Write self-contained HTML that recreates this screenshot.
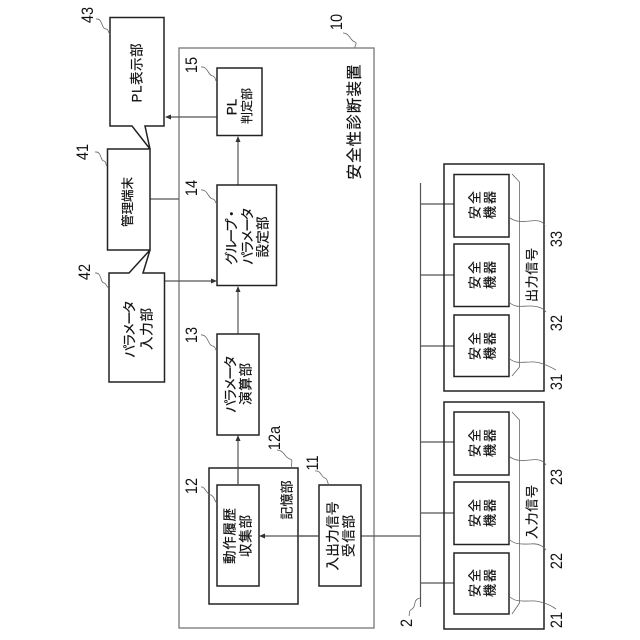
<!DOCTYPE html>
<html lang="ja">
<head>
<meta charset="utf-8">
<style>
html,body{margin:0;padding:0;background:#fff}
svg{display:block}
text{font-family:"Liberation Sans","Noto Sans CJK JP",sans-serif;fill:#111;text-anchor:middle;dominant-baseline:central}
.b{fill:#fff;stroke:#222;stroke-width:1.5}
.o{fill:none;stroke:#777;stroke-width:1.3}
.l{fill:none;stroke:#555;stroke-width:1.2}
.w{fill:none;stroke:#666;stroke-width:.8}
.a{fill:#333}
.j{font-size:13.500px;stroke:#111;stroke-width:.2}
.s{font-size:12.500px}
.t{font-size:13px}
.n{font-size:16.500px}
</style>
</head>
<body>
<svg width="640" height="640" viewBox="0 0 640 640" xmlns="http://www.w3.org/2000/svg">
<rect class="o" x="179" y="48" width="195" height="580"/>

<!-- connectors -->
<path class="l" d="M217 117H170M238 185V140M150 199H179M164 281H212M238 334V290M238 485V440M319 536H265M361 536H420.500"/>
<path class="l" d="M420.500 183V607M420.500 204H454M420.500 275H454M420.500 346H454M420.500 442H454M420.500 513H454M420.500 583H454"/>
<polygon class="a" points="165,117 171,114.500 171,119.500"/>
<polygon class="a" points="238,136 235.500,142 240.500,142"/>
<polygon class="a" points="217,281 211,278.500 211,283.500"/>
<polygon class="a" points="238,286 235.500,292 240.500,292"/>
<polygon class="a" points="238,435 235.500,441 240.500,441"/>
<polygon class="a" points="259,536 265,533.500 265,538.500"/>

<!-- external blocks -->
<path class="b" d="M110 17.500H164V126H145L150 149L132 126H110Z"/>
<path class="b" d="M109 273H129L150 250L143 273H164.500V382H109Z"/>
<rect class="b" x="107.500" y="149" width="42.500" height="101"/>

<!-- inner blocks -->
<rect class="b" x="217" y="68" width="45" height="67.500"/>
<rect class="b" x="217" y="185" width="59.500" height="100.500"/>
<rect class="b" x="217" y="334" width="42" height="101"/>
<rect class="b" style="fill:none" x="209" y="468" width="89" height="136"/>
<rect class="b" x="217" y="485" width="42" height="101"/>
<rect class="b" x="319" y="485" width="42" height="101"/>
<path class="l" d="M238 468V485"/>
<path class="l" d="M298 536H319"/>

<!-- right groups -->
<rect class="b" style="fill:none" x="444" y="164" width="100" height="227"/>
<rect class="b" x="454" y="174.500" width="55" height="62.500"/>
<rect class="b" x="454" y="244" width="55" height="62.500"/>
<rect class="b" x="454" y="315" width="55" height="61.500"/>
<rect class="b" style="fill:none" x="444" y="402" width="100" height="227"/>
<rect class="b" x="454" y="412" width="55" height="63"/>
<rect class="b" x="454" y="482" width="55" height="62.500"/>
<rect class="b" x="454" y="553" width="55" height="61"/>
<path class="w" d="M512 174L519.500 182V367L512 376M512 412L519.500 420V603L512 614"/>

<!-- leaders -->
<path class="w" d="M96 19C103 18 101 29 106 29C109 29 108 33 110 34"/>
<path class="w" d="M343 33C350 33 350 41 355 42C358 43 354 46 355 48"/>
<path class="w" d="M201 67C208 66 208 76 213 76C216 77 215 81 217 82"/>
<path class="w" d="M95 152C102 151 100 161 104 161C107 162 105 165 107 166"/>
<path class="w" d="M95 273C102 272 100 283 104 283C107 284 106 287 109 288"/>
<path class="w" d="M201 190C208 189 208 199 213 199C216 200 215 203 217 204"/>
<path class="w" d="M201 335C208 334 208 346 213 346C216 347 215 350 217 351"/>
<path class="w" d="M201 487C205 486 206 494 211 495C215 497 214 501 217 503"/>
<path class="w" d="M277 450C284 450 285 458 290 459C294 460 290 466 292 468"/>
<path class="w" d="M315 471C321 470 321 477 325 478C328 479 327 483 329 485"/>
<path class="w" d="M510 218C516 222 522 222 530 221C538 220 543 221 545 226"/>
<path class="w" d="M510 303C516 308 522 306 530 306C538 306 543 308 546 312"/>
<path class="w" d="M510 359C516 364 522 362 530 362C538 361 549 366 556 370"/>
<path class="w" d="M510 457C516 461 522 461 530 460C538 459 543 460 546 465"/>
<path class="w" d="M510 540C516 545 522 544 530 544C538 543 543 546 546 550"/>
<path class="w" d="M510 597C516 602 522 601 530 601C538 600 549 604 556 609"/>
<path class="w" d="M420 598C412 600 417 606 412 609C408 611 410 614 409 616"/>

<!-- block labels -->
<text class="j" transform="translate(137,73) rotate(-90)" textLength="59" lengthAdjust="spacing">PL表示部</text>
<text class="j s" transform="translate(128,202) rotate(-90)" textLength="50" lengthAdjust="spacing">管理端末</text>
<text class="j" transform="translate(130,329) rotate(-90)" textLength="58" lengthAdjust="spacing">パラメータ</text>
<text class="j" transform="translate(147,329) rotate(-90)" textLength="42" lengthAdjust="spacing">入力部</text>
<text class="j" transform="translate(232,107) rotate(-90)">PL</text>
<text class="j s" style="font-size:12px" transform="translate(247,106) rotate(-90)" textLength="36" lengthAdjust="spacing">判定部</text>
<text class="j" transform="translate(232,236) rotate(-90)" textLength="58" lengthAdjust="spacing">グループ・</text>
<text class="j" transform="translate(248,236) rotate(-90)" textLength="58" lengthAdjust="spacing">パラメータ</text>
<text class="j" transform="translate(263,237) rotate(-90)" textLength="41" lengthAdjust="spacing">設定部</text>
<text class="j" transform="translate(231,384) rotate(-90)" textLength="58" lengthAdjust="spacing">パラメータ</text>
<text class="j" transform="translate(246,384) rotate(-90)" textLength="42" lengthAdjust="spacing">演算部</text>
<text class="j" transform="translate(230,536) rotate(-90)" textLength="56" lengthAdjust="spacing">動作履歴</text>
<text class="j" transform="translate(246,536) rotate(-90)" textLength="42" lengthAdjust="spacing">収集部</text>
<text class="j t" transform="translate(287,500) rotate(-90)" textLength="39" lengthAdjust="spacing">記憶部</text>
<text class="j" transform="translate(333,536) rotate(-90)" textLength="69" lengthAdjust="spacing">入出力信号</text>
<text class="j" transform="translate(349,536) rotate(-90)" textLength="42" lengthAdjust="spacing">受信部</text>
<text class="j" style="font-size:15.500px" transform="translate(355,122) rotate(-90)" textLength="115" lengthAdjust="spacing">安全性診断装置</text>

<!-- 安全機器 -->
<text class="j t" transform="translate(475,205) rotate(-90)" textLength="28" lengthAdjust="spacing">安全</text>
<text class="j t" transform="translate(490,205) rotate(-90)" textLength="28" lengthAdjust="spacing">機器</text>
<text class="j t" transform="translate(475,275) rotate(-90)" textLength="28" lengthAdjust="spacing">安全</text>
<text class="j t" transform="translate(490,275) rotate(-90)" textLength="28" lengthAdjust="spacing">機器</text>
<text class="j t" transform="translate(475,346) rotate(-90)" textLength="28" lengthAdjust="spacing">安全</text>
<text class="j t" transform="translate(490,346) rotate(-90)" textLength="28" lengthAdjust="spacing">機器</text>
<text class="j t" transform="translate(475,443) rotate(-90)" textLength="28" lengthAdjust="spacing">安全</text>
<text class="j t" transform="translate(490,443) rotate(-90)" textLength="28" lengthAdjust="spacing">機器</text>
<text class="j t" transform="translate(475,513) rotate(-90)" textLength="28" lengthAdjust="spacing">安全</text>
<text class="j t" transform="translate(490,513) rotate(-90)" textLength="28" lengthAdjust="spacing">機器</text>
<text class="j t" transform="translate(475,583) rotate(-90)" textLength="28" lengthAdjust="spacing">安全</text>
<text class="j t" transform="translate(490,583) rotate(-90)" textLength="28" lengthAdjust="spacing">機器</text>
<text class="j t" transform="translate(532,275) rotate(-90)" textLength="54" lengthAdjust="spacing">出力信号</text>
<text class="j t" transform="translate(532,512) rotate(-90)" textLength="54" lengthAdjust="spacing">入力信号</text>

<!-- reference numbers -->
<text class="n" transform="translate(88,15) rotate(-90) scale(.88,1)">43</text>
<text class="n" transform="translate(337,22) rotate(-90) scale(.88,1)">10</text>
<text class="n" transform="translate(192,65) rotate(-90) scale(.88,1)">15</text>
<text class="n" transform="translate(83,152) rotate(-90) scale(.88,1)">41</text>
<text class="n" transform="translate(85,272) rotate(-90) scale(.88,1)">42</text>
<text class="n" transform="translate(192,188) rotate(-90) scale(.88,1)">14</text>
<text class="n" transform="translate(192,335) rotate(-90) scale(.88,1)">13</text>
<text class="n" transform="translate(192,486) rotate(-90) scale(.88,1)">12</text>
<text class="n" transform="translate(275,438) rotate(-90) scale(.88,1)">12a</text>
<text class="n" transform="translate(313,463) rotate(-90) scale(.88,1)">11</text>
<text class="n" transform="translate(557,239) rotate(-90) scale(.88,1)">33</text>
<text class="n" transform="translate(557,323) rotate(-90) scale(.88,1)">32</text>
<text class="n" transform="translate(557,382) rotate(-90) scale(.88,1)">31</text>
<text class="n" transform="translate(557,477) rotate(-90) scale(.88,1)">23</text>
<text class="n" transform="translate(557,561) rotate(-90) scale(.88,1)">22</text>
<text class="n" transform="translate(557,620) rotate(-90) scale(.88,1)">21</text>
<text class="n" transform="translate(407,623) rotate(-90) scale(.88,1)">2</text>
</svg>
</body>
</html>
